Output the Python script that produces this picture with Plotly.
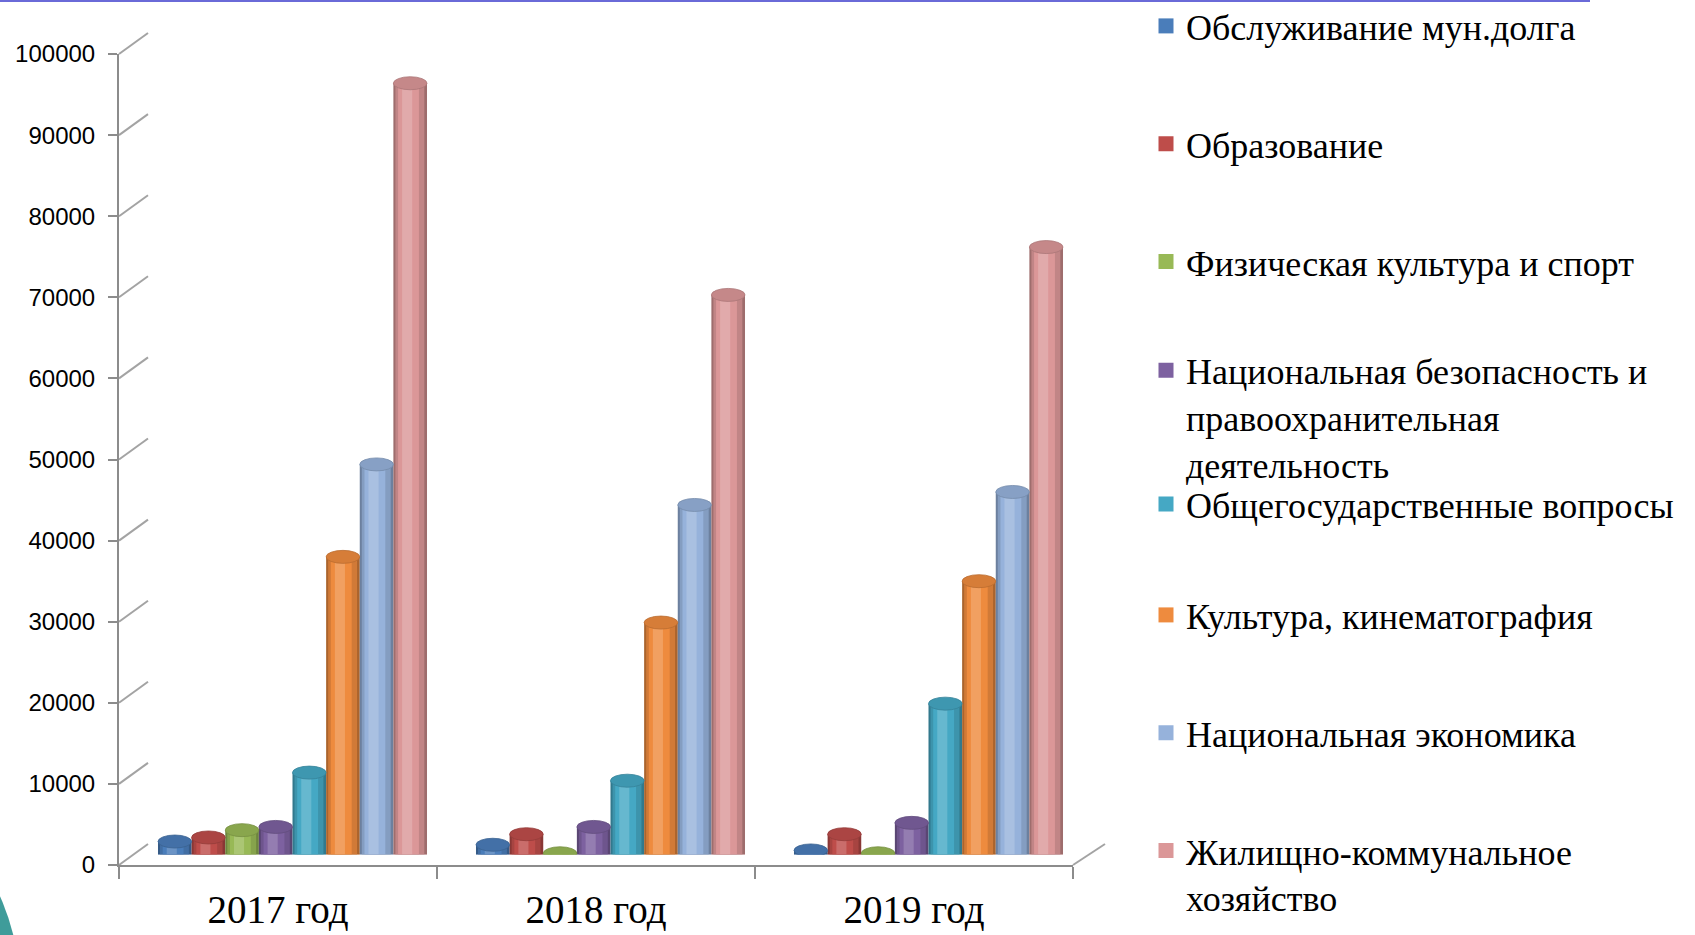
import plotly.graph_objects as go

# ---------------- data ----------------
years = ["2017 год", "2018 год", "2019 год"]
series_names = [
    "Обслуживание мун.долга",
    "Образование",
    "Физическая культура и спорт",
    "Национальная безопасность и<br>правоохранительная<br>деятельность",
    "Общегосударственные вопросы",
    "Культура, кинематография",
    "Национальная экономика",
    "Жилищно-коммунальное<br>хозяйство",
]
debt_service = [1600, 1200, 500]
education = [2100, 2500, 2500]
sport = [3000, 150, 150]
security = [3400, 3400, 3900]
general_issues = [10100, 9100, 18600]
culture = [36700, 28600, 33700]
economy = [48100, 43100, 44700]
housing = [95100, 69000, 74900]
y_tick_values = [0, 10000, 20000, 30000, 40000, 50000, 60000, 70000, 80000, 90000, 100000]

series_values = [debt_service, education, sport, security,
                 general_issues, culture, economy, housing]
colors = ["#4A7DBA", "#BE4D4A", "#98B956", "#7D61A0",
          "#45A8C4", "#EE8B3E", "#96B2DB", "#DB9798"]

# ---------------- geometry (pixels) ----------------
W, H = 1695, 935
PL, PR, PT, PB = 119, 1105, 33, 865          # paper box
FX0, FX1, FY0, FY1 = 119, 1073, 865, 54      # front plane
DX, DY = 29, 21                              # depth offset of back wall
YMAX = 100000


def px_x(px):
    return (px - PL) / (PR - PL)


def px_y(py):
    return (PB - py) / (PB - PT)


def blend(hex_color, other, t):
    c = [int(hex_color[i:i + 2], 16) for i in (1, 3, 5)]
    o = [int(other[i:i + 2], 16) for i in (1, 3, 5)]
    m = [round(a + (b - a) * t) for a, b in zip(c, o)]
    return "#%02x%02x%02x" % tuple(m)


fig = go.Figure()

# ---------- bars (mid-depth plane, subplot x2/y2) ----------
n = len(series_values)
group = 0.846
bw = group / n
layers = [  # (left fraction, width fraction, blend target, blend amount)
    (0.00, 1.00, "#000000", 0.28),
    (0.06, 0.86, "#000000", 0.12),
    (0.14, 0.62, "#000000", 0.0),
    (0.26, 0.30, "#ffffff", 0.18),
]
px_per_unit = (FY0 - FY1) / YMAX
ell_h = 6.5 / px_per_unit  # half-height of cylinder ellipse in data units
shapes = []
for i, (vals, name, col) in enumerate(zip(series_values, series_names, colors)):
    base_off = -group / 2 + i * bw
    for k, (lf, wf, tgt, amt) in enumerate(layers):
        fig.add_trace(go.Bar(
            x=years, y=vals, xaxis="x2", yaxis="y2",
            offset=base_off + lf * bw, width=wf * bw,
            marker=dict(color=blend(col, tgt, amt), line=dict(width=0)),
            name=name, showlegend=False,
        ))
    # legend entry (square marker)
    fig.add_trace(go.Scatter(
        x=[None], y=[None], xaxis="x2", yaxis="y2", mode="markers",
        marker=dict(symbol="square", size=15, color=col),
        name=name, showlegend=True,
        legend="legend" if i == 0 else "legend%d" % (i + 1),
    ))
    for j, v in enumerate(vals):
        # bottom rim of cylinder
        shapes.append(dict(type="circle", xref="x2", yref="y2", layer="below",
                           x0=j + base_off, x1=j + base_off + bw,
                           y0=-ell_h, y1=ell_h,
                           fillcolor=blend(col, "#000000", 0.15), line=dict(width=0)))
        # top face of cylinder
        shapes.append(dict(type="circle", xref="x2", yref="y2", layer="above",
                           x0=j + base_off, x1=j + base_off + bw,
                           y0=v - ell_h, y1=v + ell_h,
                           fillcolor=blend(col, "#000000", 0.10),
                           line=dict(width=0.8, color=blend(col, "#000000", 0.22))))

# ---------- front axes carrier (subplot x3/y3) ----------
fig.add_trace(go.Scatter(x=years, y=[0, 0, 0], xaxis="x3", yaxis="y3",
                         mode="markers", marker=dict(opacity=0),
                         showlegend=False, hoverinfo="skip"))

# ---------- 3D wall decorations ----------
grid_col = "#A3A3A3"
for v in y_tick_values:
    fy = FY0 - v * px_per_unit
    shapes.append(dict(type="line", xref="paper", yref="paper",
                       x0=px_x(FX0), y0=px_y(fy), x1=px_x(FX0 + DX), y1=px_y(fy - DY),
                       line=dict(color=grid_col, width=2), layer="below"))
shapes.append(dict(type="line", xref="paper", yref="paper",
                   x0=px_x(FX1), y0=px_y(FY0), x1=px_x(FX1 + DX + 3), y1=px_y(FY0 - DY),
                   line=dict(color=grid_col, width=2), layer="below"))
# slide decorations
shapes.append(dict(type="line", xref="paper", yref="paper",
                   x0=px_x(0), x1=px_x(1590), y0=px_y(1), y1=px_y(1),
                   line=dict(color="#6A6AD8", width=2)))
shapes.append(dict(type="circle", xref="paper", yref="paper",
                   x0=px_x(-440), x1=px_x(20), y0=px_y(1220), y1=px_y(760),
                   fillcolor="#3F9C9A", line=dict(width=0), layer="below"))

axis_col = "#8C8C8C"
layout = dict(
    width=W, height=H,
    margin=dict(l=PL, r=W - PR, t=PT, b=H - PB, pad=0, autoexpand=False),
    paper_bgcolor="white", plot_bgcolor="rgba(0,0,0,0)",
    barmode="overlay",
    shapes=shapes,
    # back wall gridlines
    xaxis=dict(domain=[px_x(FX0 + DX), 1], range=[0, 1], visible=False, anchor="y"),
    yaxis=dict(domain=[px_y(FY0 - DY), px_y(FY1 - DY)], range=[0, YMAX],
               tickvals=y_tick_values, showgrid=True, gridcolor=grid_col, gridwidth=2,
               showticklabels=False, zeroline=False, showline=False, anchor="x"),
    # bars
    xaxis2=dict(domain=[px_x(FX0 + DX / 2), px_x(FX1 + DX / 2)], type="category",
                categoryorder="array", categoryarray=years, range=[-0.5, 2.5],
                visible=False, anchor="y2"),
    yaxis2=dict(domain=[px_y(FY0 - DY / 2), px_y(FY1 - DY / 2)], range=[0, YMAX],
                visible=False, anchor="x2"),
    # front axes
    xaxis3=dict(domain=[0, px_x(FX1)], type="category", categoryorder="array",
                categoryarray=years, range=[-0.5, 2.5], anchor="y3",
                showline=True, linecolor=axis_col, linewidth=2, showgrid=False,
                ticks="outside", tickson="boundaries", ticklen=12, tickwidth=2,
                tickcolor=axis_col, ticklabelstandoff=9,
                tickfont=dict(family="Liberation Serif", size=39, color="black")),
    yaxis3=dict(domain=[0, px_y(FY1)], range=[0, YMAX], anchor="x3",
                tickvals=y_tick_values, tickformat="d",
                showline=True, linecolor=axis_col, linewidth=2,
                showgrid=False, zeroline=False, ticks="outside", ticklen=9, tickwidth=2,
                tickcolor=axis_col, ticklabelstandoff=8,
                tickfont=dict(family="Liberation Sans", size=24, color="black")),
    hovermode=False,
)

row0, row_step = 27, 117.8
nudge = [0, 0, 0, -9, 7, 0, 0, 0]
for i in range(n):
    key = "legend" if i == 0 else "legend%d" % (i + 1)
    layout[key] = dict(
        x=px_x(1146), y=px_y(row0 + i * row_step - 31 + nudge[i]),
        xanchor="left", yanchor="top",
        valign="top", bgcolor="rgba(0,0,0,0)", borderwidth=0,
        font=dict(family="Liberation Serif", size=36, color="black"),
        itemclick=False, itemdoubleclick=False,
    )

fig.update_layout(**layout)
fig.write_html(
    "out.html",
    config={"displayModeBar": False},
    post_script="document.body.style.margin='0';document.body.style.overflow='hidden';",
)
